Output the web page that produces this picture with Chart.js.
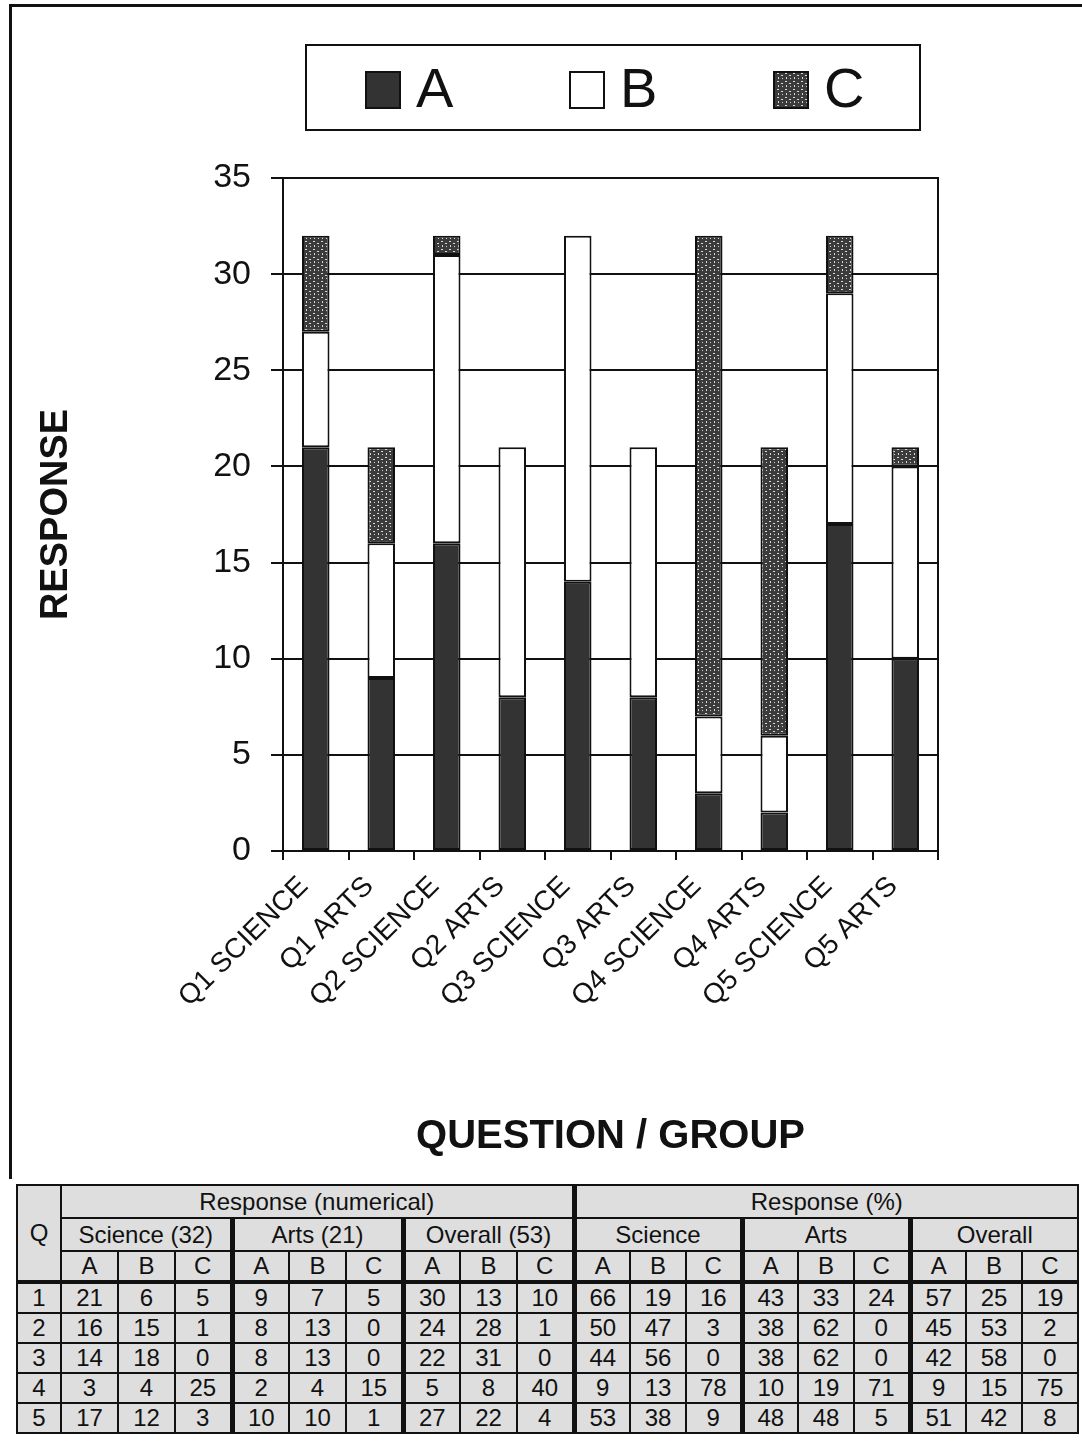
<!DOCTYPE html>
<html>
<head>
<meta charset="utf-8">
<title>Response by question and group</title>
<script src="https://cdn.jsdelivr.net/npm/chart.js@4.4.1/dist/chart.umd.min.js"></script>
<style>
  html, body { margin: 0; padding: 0; background: #fff; overflow: hidden; }
  body { width: 1082px; height: 1444px; position: relative; font-family: "Liberation Sans", Arial, sans-serif; color: #111; }
  #frame { position: absolute; left: 9px; top: 4px; width: 1200px; height: 1172px; border-left: 3px solid #111; border-top: 3px solid #111; }
  #wrap { position: absolute; left: 0; top: 0; width: 1082px; height: 1170px; }
  #tbl { position: absolute; left: 16px; top: 1184px; border-collapse: collapse; table-layout: fixed; font-size: 24px; }
  #tbl td { background: #dedede; border: 2px solid #111; text-align: center; padding: 0; height: 28px; line-height: 26px; }
  #tbl td.g { border-left: 5px solid #111; }
  #tbl tr.h td { height: 31px; }
  #tbl tr.first td { border-top: 4px solid #111; }
</style>
</head>
<body>
<div id="frame"></div>
<div id="wrap"><canvas id="respChart"></canvas></div>
<table id="tbl"></table>

<script>
// chart categories and stacked counts (Science = 32, Arts = 21 students)
const questions = ["1", "2", "3", "4", "5"];
const categories = ["Q1 SCIENCE", "Q1 ARTS", "Q2 SCIENCE", "Q2 ARTS", "Q3 SCIENCE",
                    "Q3 ARTS", "Q4 SCIENCE", "Q4 ARTS", "Q5 SCIENCE", "Q5 ARTS"];
const yTicks = [0, 5, 10, 15, 20, 25, 30, 35];

const scienceA = [21, 16, 14, 3, 17];
const scienceB = [6, 15, 18, 4, 12];
const scienceC = [5, 1, 0, 25, 3];
const artsA = [9, 8, 8, 2, 10];
const artsB = [7, 13, 13, 4, 10];
const artsC = [5, 0, 0, 15, 1];
const overallA = [30, 24, 22, 5, 27];
const overallB = [13, 28, 31, 8, 22];
const overallC = [10, 1, 0, 40, 4];

// percentages as printed in the table
const pctScience = [[66, 19, 16], [50, 47, 3], [44, 56, 0], [9, 13, 78], [53, 38, 9]];
const pctArts = [[43, 33, 24], [38, 62, 0], [38, 62, 0], [10, 19, 71], [48, 48, 5]];
const pctOverall = [[57, 25, 19], [45, 53, 2], [42, 58, 0], [9, 15, 75], [51, 42, 8]];

// science / arts pairs -> one bar each
function pairUp(sci, arts) {
  const out = [];
  for (let i = 0; i < sci.length; i++) { out.push(sci[i]); out.push(arts[i]); }
  return out;
}

// speckled dark fill for C
function speckle() {
  const c = document.createElement("canvas");
  c.width = 8; c.height = 8;
  const g = c.getContext("2d");
  g.fillStyle = "#3b3b3b";
  g.fillRect(0, 0, 8, 8);
  g.fillStyle = "#d8d8d8";
  g.fillRect(1, 1, 2, 1);
  g.fillRect(5, 3, 2, 1);
  g.fillRect(2, 5, 1, 2);
  g.fillRect(6, 6, 1, 1);
  return g.createPattern(c, "repeat");
}

const boxLegend = {
  id: "boxLegend",
  afterDraw(chart) {
    const ctx = chart.ctx;
    ctx.save();
    ctx.strokeStyle = "#111";
    ctx.lineWidth = 2;
    ctx.strokeRect(306, 45, 614, 85);
    const xs = [366, 570, 774];
    ctx.font = "56px 'Liberation Sans', Arial, sans-serif";
    ctx.textBaseline = "middle";
    chart.data.datasets.forEach((ds, i) => {
      ctx.fillStyle = ds.backgroundColor;
      ctx.fillRect(xs[i], 72, 34, 36);
      ctx.lineWidth = 2;
      ctx.strokeRect(xs[i], 72, 34, 36);
      ctx.fillStyle = "#111";
      ctx.fillText(ds.label, xs[i] + 50, 92);
    });
    ctx.restore();
  }
};

const plotBorder = {
  id: "plotBorder",
  afterDraw(chart) {
    const a = chart.chartArea;
    const ctx = chart.ctx;
    ctx.save();
    ctx.strokeStyle = "#111";
    ctx.lineWidth = 2;
    ctx.strokeRect(a.left, a.top, a.right - a.left, a.bottom - a.top);
    ctx.restore();
  }
};

const ctx = document.getElementById("respChart").getContext("2d");
const barStyle = { borderColor: "#111", borderWidth: 2, borderSkipped: false, barPercentage: 0.42, categoryPercentage: 1 };

new Chart(ctx, {
  type: "bar",
  data: {
    labels: categories,
    datasets: [
      Object.assign({ label: "A", data: pairUp(scienceA, artsA), backgroundColor: "#333333" }, barStyle),
      Object.assign({ label: "B", data: pairUp(scienceB, artsB), backgroundColor: "#ffffff" }, barStyle),
      Object.assign({ label: "C", data: pairUp(scienceC, artsC), backgroundColor: speckle() }, barStyle)
    ]
  },
  options: {
    responsive: true,
    maintainAspectRatio: false,
    animation: false,
    layout: { padding: { left: 34, top: 178, right: 144, bottom: 0 } },
    plugins: { legend: { display: false }, tooltip: { enabled: false } },
    scales: {
      x: {
        stacked: true,
        afterFit: s => { s.height = 319; },
        grid: { drawOnChartArea: false, drawTicks: true, tickLength: 9, color: "#111", lineWidth: 2 },
        border: { display: true, color: "#111", width: 2 },
        ticks: { autoSkip: false, minRotation: 45, maxRotation: 45, padding: 10, labelOffset: -12, color: "#111",
                 font: { size: 28, family: "'Liberation Sans', Arial, sans-serif" } },
        title: { display: true, text: "QUESTION / GROUP", color: "#111", padding: { top: 0, bottom: 9 },
                 font: { size: 40, weight: "bold", family: "'Liberation Sans', Arial, sans-serif" } }
      },
      y: {
        stacked: true,
        min: 0,
        max: 35,
        afterFit: s => { s.width = 249; },
        afterBuildTicks: s => { s.ticks = yTicks.map(v => ({ value: v })); },
        grid: { color: "#111", lineWidth: 2, tickLength: 12 },
        border: { display: true, color: "#111", width: 2 },
        ticks: { padding: 20, color: "#111", font: { size: 34, family: "'Liberation Sans', Arial, sans-serif" } },
        title: { display: true, text: "RESPONSE", color: "#111", padding: 0,
                 font: { size: 38, weight: "bold", family: "'Liberation Sans', Arial, sans-serif" } }
      }
    }
  },
  plugins: [boxLegend, plotBorder]
});

// table under the chart
(function buildTable() {
  const t = document.getElementById("tbl");
  const cols = "<colgroup><col style='width:44px'>" + "<col style='width:57px'>".repeat(9) +
               "<col style='width:56px'>".repeat(9) + "</colgroup>";
  let html = cols;
  html += "<tr class='h'><td rowspan='3' style='vertical-align:middle'>Q</td>" +
          "<td colspan='9'>Response (numerical)</td><td colspan='9' class='g'>Response (%)</td></tr>";
  const groups = ["Science (32)", "Arts (21)", "Overall (53)", "Science", "Arts", "Overall"];
  html += "<tr class='h'>" + groups.map((g, i) => "<td colspan='3'" + (i > 0 ? " class='g'" : "") + ">" + g + "</td>").join("") + "</tr>";
  let abc = "";
  for (let i = 0; i < 6; i++) abc += "<td" + (i > 0 ? " class='g'" : "") + ">A</td><td>B</td><td>C</td>";
  html += "<tr>" + abc + "</tr>";
  questions.forEach((q, r) => {
    const sets = [
      [scienceA[r], scienceB[r], scienceC[r]],
      [artsA[r], artsB[r], artsC[r]],
      [overallA[r], overallB[r], overallC[r]],
      pctScience[r], pctArts[r], pctOverall[r]
    ];
    let row = "<tr" + (r === 0 ? " class='first'" : "") + "><td>" + q + "</td>";
    sets.forEach((s, i) => {
      row += "<td" + (i > 0 ? " class='g'" : "") + ">" + s[0] + "</td><td>" + s[1] + "</td><td>" + s[2] + "</td>";
    });
    html += row + "</tr>";
  });
  t.innerHTML = html;
})();
</script>
</body>
</html>
